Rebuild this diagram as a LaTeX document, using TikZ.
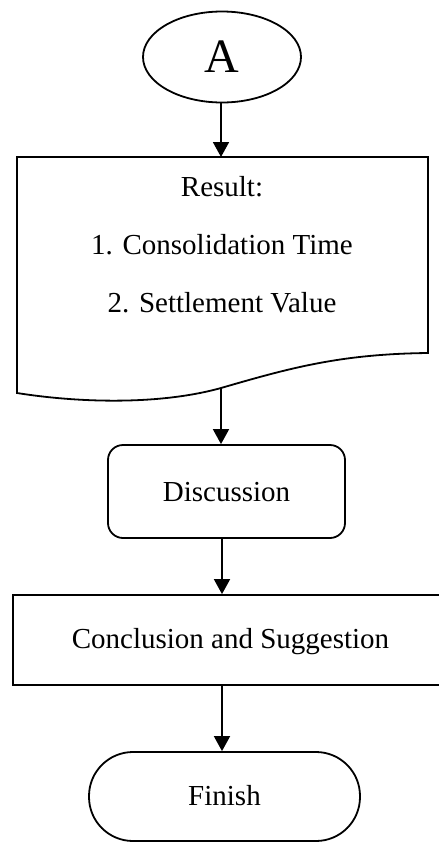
\documentclass[tikz,border=0pt]{standalone}
\usepackage{fontspec}
\setmainfont{Liberation Serif}
\usetikzlibrary{arrows.meta,shapes.geometric}
\begin{document}
\begin{tikzpicture}[x=1pt,y=-1pt,
  lw/.style={line width=1.8pt},
  arr/.style={lw,-{Triangle[length=15pt,width=16pt]}},
  txt/.style={font=\fontsize{29}{34}\selectfont, inner sep=0pt},
  boxr/.style={draw,lw,rectangle,inner sep=0pt}
]
\useasboundingbox (0,0) rectangle (439,844);
% connector A
\node[draw,lw,ellipse,minimum width=158pt,minimum height=91pt,inner sep=0pt,
      font=\fontsize{48}{50}\selectfont] (A) at (222,57) {A};
% document shape
\coordinate (restop) at (221,157);
\coordinate (resbot) at (221,388);
\draw[lw,line join=miter] (17,393) -- (17,157) -- (428,157) -- (428,353)
   .. controls (340,354) and (290,368) .. (resbot)
   .. controls (160,405) and (80,403) .. cycle;
\node[txt,anchor=base] (r1) at (222,196) {Result:};
\node[txt,anchor=base] (r2) at (222,254) {1. Consolidation Time};
\node[txt,anchor=base] (r3) at (222,312) {2. Settlement Value};
% discussion
\node[boxr,rounded corners=15pt,minimum width=237pt,minimum height=93pt] (disc) at (226.5,491.5) {};
\node[txt,anchor=base] (disct) at (226.5,501) {Discussion};
% conclusion
\node[boxr,minimum width=435pt,minimum height=90pt] (conc) at (230.5,640) {};
\node[txt,anchor=base] (conct) at (230.5,648) {Conclusion and Suggestion};
% finish
\node[boxr,rounded corners=44pt,minimum width=271pt,minimum height=89pt] (fin) at (224.5,796.5) {};
\node[txt,anchor=base] (fint) at (224.5,805) {Finish};
% arrows
\draw[arr] (A.south -| restop) -- (restop);
\draw[arr] (resbot) -- (resbot |- disc.north);
\draw[arr] ([xshift=-4.5pt]disc.south) -- ([xshift=-4.5pt]disc.south |- conc.north);
\draw[arr] ([xshift=-8.5pt]conc.south) -- ([xshift=-8.5pt]conc.south |- fin.north);
\end{tikzpicture}
\end{document}
